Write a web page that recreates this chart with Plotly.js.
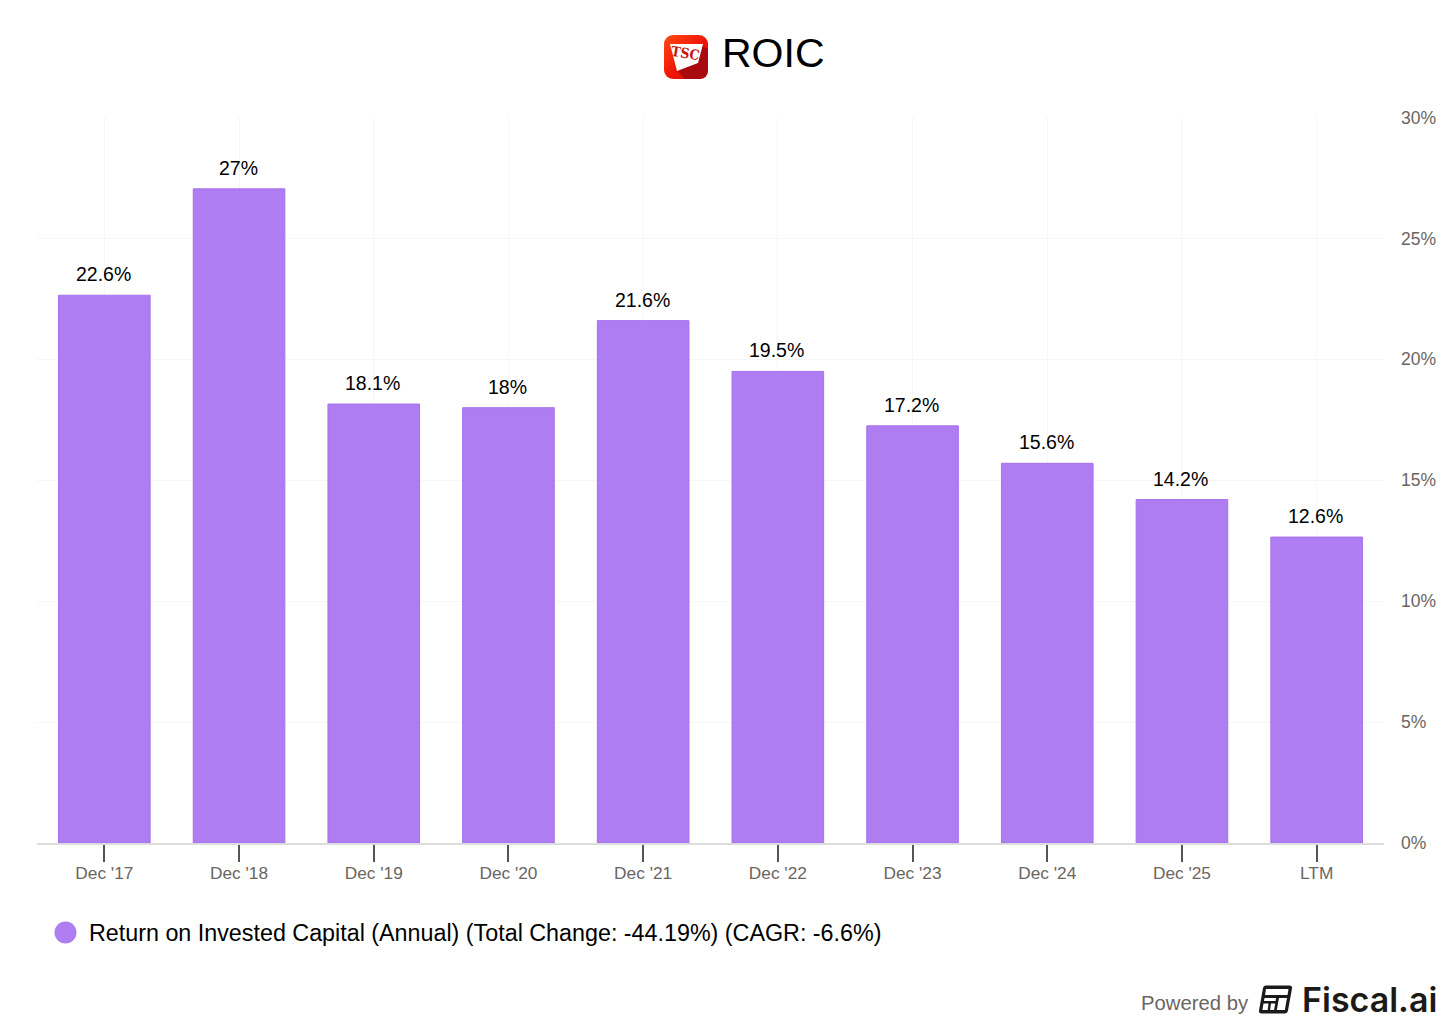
<!DOCTYPE html>
<html>
<head>
<meta charset="utf-8">
<script src="https://cdn.plot.ly/plotly-3.0.1.min.js"></script>
<style>
html, body { margin: 0; padding: 0; background: #fff; }
#chart { width: 1456px; height: 1032px; }
</style>
</head>
<body>
<div id="chart"></div>
<script>
var periods = ["Dec '17", "Dec '18", "Dec '19", "Dec '20", "Dec '21", "Dec '22", "Dec '23", "Dec '24", "Dec '25", "LTM"];
var roic = [22.65, 27.05, 18.15, 18.0, 21.6, 19.5, 17.25, 15.7, 14.2, 12.65];
var roicLabels = ["22.6%", "27%", "18.1%", "18%", "21.6%", "19.5%", "17.2%", "15.6%", "14.2%", "12.6%"];
var yTicks = [0, 5, 10, 15, 20, 25, 30];
var yTickLabels = ["0%", "5%", "10%", "15%", "20%", "25%", "30%"];
var legendText = "Return on Invested Capital (Annual) (Total Change: -44.19%) (CAGR: -6.6%)";

var FONT = '"Liberation Sans", Arial, sans-serif';
var PURPLE = '#ae7df2';
var GREY = '#6b655f';

// plot area in page pixels
var L = 37, R = 1384, T = 117, B = 843;
function px(x) { return (x - L) / (R - L); }
function py(y) { return (B - y) / (B - T); }

var tscLogo = 'data:image/svg+xml;utf8,' + encodeURIComponent(
  '<svg xmlns="http://www.w3.org/2000/svg" width="176" height="176" viewBox="0 0 44 44">' +
  '<defs><linearGradient id="g" x1="0" y1="0" x2="1" y2="1">' +
  '<stop offset="0" stop-color="#ff4a12"/><stop offset="0.55" stop-color="#ee1408"/><stop offset="1" stop-color="#c40a0a"/></linearGradient></defs>' +
  '<rect width="44" height="44" rx="9" fill="url(#g)"/>' +
  '<path d="M14 36 L38 11 L44 14 L44 35 Q44 44 35 44 L21 44 Z" fill="#a80a10"/>' +
  '<path d="M6 9 L39 9 L34 28 L13 36 Z" fill="#fff"/>' +
  '</svg>');

var fiscalIcon = 'data:image/svg+xml;utf8,' + encodeURIComponent(
  '<svg xmlns="http://www.w3.org/2000/svg" width="136" height="116" viewBox="0 0 34 29">' +
  '<path d="M7 0.5 H31 Q34 0.5 33.5 3.5 L29.5 25.5 Q29 28.5 26 28.5 H3 Q0 28.5 0.5 25.5 L4.5 3 Q5 0.5 7 0.5 Z" fill="#1c1a19"/>' +
  '<path d="M7.5 4 H30 L29 10 H6.5 Z" fill="#fff"/>' +
  '<path d="M6 13 H17.5 L17.1 16 H5.5 Z" fill="#fff"/>' +
  '<path d="M5 18.5 H10 L9.2 25 H3.9 Z" fill="#fff"/>' +
  '<path d="M12.5 18.5 H16.7 L15.6 25 H11.6 Z" fill="#fff"/>' +
  '<path d="M20.5 13 H28.5 L26.3 25 H18.3 Z" fill="#fff"/>' +
  '</svg>');

var trace = {
  type: 'bar',
  x: periods,
  y: roic,
  marker: { color: PURPLE, line: { color: '#a671ec', width: 1 } },
  hoverinfo: 'x+y'
};

// value labels sit a bit further above the bars than textposition outside allows
var valueLabels = periods.map(function (p, i) {
  return {
    text: roicLabels[i], x: p, y: roic[i], xref: 'x', yref: 'y',
    xanchor: 'center', yanchor: 'bottom', yshift: 8, xshift: -1, showarrow: false,
    font: { family: FONT, size: 19.5, color: '#000' }
  };
});

var layout = {
  width: 1456,
  height: 1032,
  margin: { l: L, r: 1456 - R, t: T, b: 1032 - B, pad: 0 },
  paper_bgcolor: '#fff',
  plot_bgcolor: '#fff',
  font: { family: FONT },
  bargap: 0.32,
  showlegend: false,
  xaxis: {
    type: 'category',
    categoryorder: 'array',
    categoryarray: periods,
    showgrid: true,
    gridcolor: '#f6f6f6',
    gridwidth: 1,
    showline: true,
    linecolor: '#dcdcdc',
    linewidth: 1.5,
    ticks: 'outside',
    ticklen: 17,
    tickwidth: 2,
    tickcolor: '#555',
    tickfont: { family: FONT, size: 17.3, color: GREY },
    ticklabelstandoff: -3,
    zeroline: false
  },
  yaxis: {
    side: 'right',
    range: [0, 30.02], // a hair over 30 so the top gridline still draws
    tickvals: yTicks,
    ticktext: yTickLabels,
    showgrid: true,
    gridcolor: '#f6f6f6',
    gridwidth: 1,
    showline: false,
    zeroline: false,
    ticks: '',
    ticklabelstandoff: 16,
    tickfont: { family: FONT, size: 17.5, color: GREY }
  },
  images: [
    { source: tscLogo, xref: 'paper', yref: 'paper', x: px(664), y: py(35), sizex: 44 / (R - L), sizey: 44 / (B - T),
      xanchor: 'left', yanchor: 'top', sizing: 'stretch', layer: 'above' },
    { source: fiscalIcon, xref: 'paper', yref: 'paper', x: px(1258.5), y: py(985), sizex: 34 / (R - L), sizey: 29 / (B - T),
      xanchor: 'left', yanchor: 'top', sizing: 'stretch', layer: 'above' }
  ],
  shapes: [
    { type: 'circle', xref: 'paper', yref: 'paper', x0: px(54.5), x1: px(76.5), y0: py(943.5), y1: py(921.5),
      fillcolor: PURPLE, line: { width: 0 } }
  ],
  annotations: valueLabels.concat([
    { text: 'ROIC', xref: 'paper', yref: 'paper', x: px(719.5), y: py(53), xanchor: 'left', yanchor: 'middle',
      showarrow: false, font: { family: FONT, size: 41, color: '#000' } },
    { text: '<b>TSC</b>', xref: 'paper', yref: 'paper', x: px(685), y: py(53), xanchor: 'center', yanchor: 'middle',
      showarrow: false, textangle: 9, font: { family: '"DejaVu Serif Condensed", "Liberation Serif", serif', size: 14, color: '#c8140e' } },
    { text: legendText, xref: 'paper', yref: 'paper', x: px(87), y: py(933), xanchor: 'left', yanchor: 'middle',
      showarrow: false, font: { family: FONT, size: 23.3, color: '#000' } },
    { text: 'Powered by', xref: 'paper', yref: 'paper', x: px(1139), y: py(1003), xanchor: 'left', yanchor: 'middle',
      showarrow: false, font: { family: FONT, size: 20.3, color: GREY } },
    { text: 'Fiscal.ai', xref: 'paper', yref: 'paper', x: px(1300), y: py(1000), xanchor: 'left', yanchor: 'middle',
      showarrow: false, font: { family: 'Inter, sans-serif', size: 34, weight: 600, color: '#1c1a19' } }
  ])
};

Plotly.newPlot('chart', [trace], layout, { displayModeBar: false, staticPlot: true });
</script>
</body>
</html>
